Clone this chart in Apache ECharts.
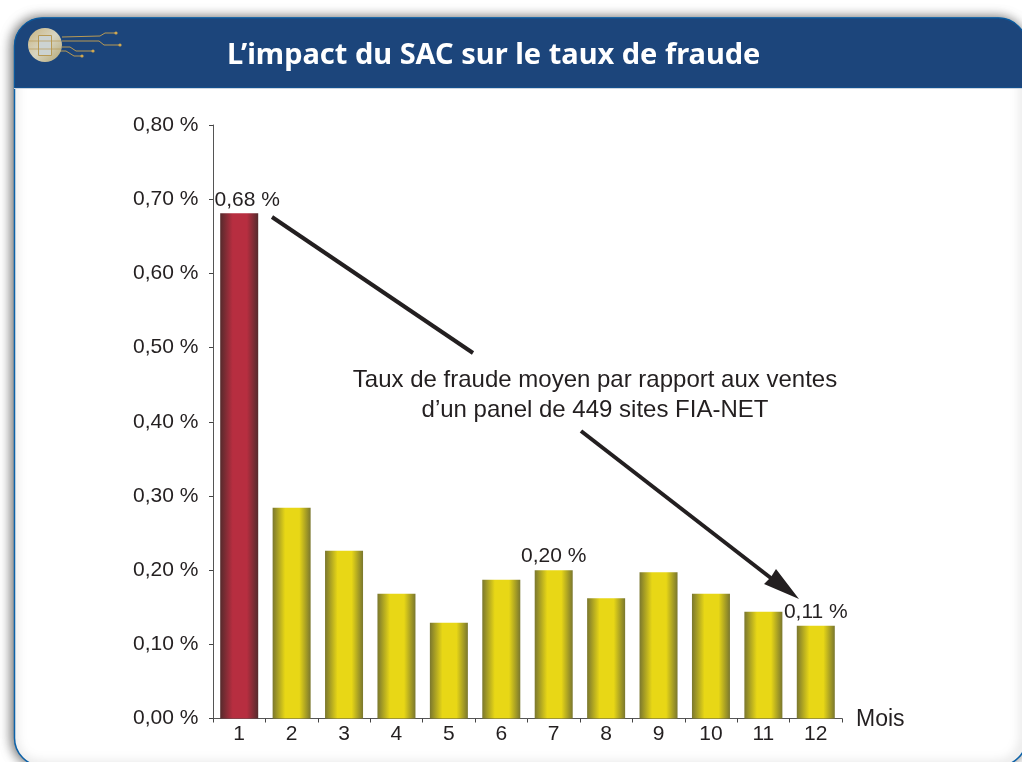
<!DOCTYPE html>
<html><head><meta charset="utf-8">
<style>html,body{margin:0;padding:0;background:#fff}#c{width:1022px;height:762px}</style>
<script src="https://cdn.jsdelivr.net/npm/echarts@6/dist/echarts.min.js"></script>
</head><body><div id="c"></div>
<script>
const categories = ['1','2','3','4','5','6','7','8','9','10','11','12'];
const fraudRate = [0.681,0.284,0.226,0.168,0.129,0.187,0.200,0.162,0.197,0.168,0.144,0.125];
const dataLabels = {0:'0,68 %',6:'0,20 %',11:'0,11 %'};
const titleText = 'L\u2019impact du SAC sur le taux de fraude';
const noteLines = 'Taux de fraude moyen par rapport aux ventes\nd\u2019un panel de 449 sites FIA-NET';
const FONT = '"Liberation Sans", Arial, sans-serif';
const INK = '#231f20';
const grad = (edge, mid) => ({type:'linear',x:0,y:0,x2:1,y2:0,colorStops:[
  {offset:0,color:edge},{offset:.33,color:mid},{offset:.7,color:mid},{offset:1,color:edge}]});
const traces = [
  [[62,37],[100,36],[105,33],[116,33]],
  [[62,41],[99,41],[104,45],[120,45]],
  [[62,47],[70,47],[76,51],[93,51]],
  [[58,51],[66,51],[74,56],[82,56]]
];
const gold = '#b89a55';
const chart = echarts.init(document.getElementById('c'));
chart.setOption({
  animation:false,
  backgroundColor:'#fff',
  title:{text:titleText,left:222,top:31,itemGap:0,
    textStyle:{color:'#fff',fontFamily:'"Noto Sans", sans-serif',fontWeight:'bold',fontSize:29,lineHeight:40,textBorderWidth:0}},
  grid:{left:213,right:180,top:125,bottom:43.5},
  xAxis:{type:'category',data:categories,name:'Mois',nameLocation:'end',nameGap:14,
    nameTextStyle:{fontFamily:FONT,fontSize:23,color:INK,verticalAlign:'top',lineHeight:2},
    axisLine:{lineStyle:{color:'#555',width:1}},
    axisTick:{show:true,alignWithLabel:false,length:4,lineStyle:{color:'#444'}},
    axisLabel:{fontFamily:FONT,fontSize:21,color:INK,margin:5}},
  yAxis:{type:'value',min:0,max:0.8,interval:0.1,
    axisLine:{show:true,lineStyle:{color:'#555',width:1}},
    axisTick:{show:true,length:4,lineStyle:{color:'#444'}},
    splitLine:{show:false},
    axisLabel:{fontFamily:FONT,fontSize:21,color:INK,align:'left',margin:80,
      formatter:v=>v.toFixed(2).replace('.',',')+' %'}},
  series:[{type:'bar',barWidth:38,z:3,
    data:fraudRate.map((v,i)=>({value:v,
      itemStyle:{color:i===0?grad('#552a2c','#b72e40'):grad('#7a772e','#e8d716')},
      label:dataLabels[i]?{show:true,position:'top',distance:3,formatter:dataLabels[i],
        offset:i===0?[8,0]:[0,0],fontFamily:FONT,fontSize:21,color:INK}:{show:false}}))}],
  graphic:{elements:[
    {type:'rect',z:-3,shape:{x:14.5,y:18,width:1012,height:748,r:28},
      style:{fill:'#fff',stroke:'#0d62a8',lineWidth:1.5,shadowBlur:12,shadowOffsetX:-2,shadowColor:'rgba(0,0,0,.6)'}},
    {type:'rect',z:-2,shape:{x:14.5,y:18,width:1012,height:70,r:[28,28,0,0]},style:{fill:'#1c457b',stroke:'#0b5a9e',lineWidth:1}},
    {type:'line',z:-2,shape:{x1:14,y1:88.5,x2:1022,y2:88.5},style:{stroke:'#cdd5e0',lineWidth:1}},
    ...traces.map(t=>({type:'polyline',z:-1,shape:{points:t},style:{fill:null,stroke:gold,lineWidth:1}})),
    ...traces.map(t=>({type:'circle',z:-1,shape:{cx:t[t.length-1][0],cy:t[t.length-1][1],r:1.6},style:{fill:'#d0a850'}})),
    {type:'circle',z:-1,shape:{cx:45,cy:45,r:17},style:{fill:{type:'linear',x:0,y:0,x2:1,y2:1,colorStops:[{offset:0,color:'#c9b47f'},{offset:.5,color:'#d8d5c2'},{offset:1,color:'#b4a671'}]}}},
    {type:'rect',z:-1,shape:{x:38.5,y:35.5,width:13,height:20},style:{fill:'#ccd3d2',stroke:gold,lineWidth:1}},
    {type:'line',z:-1,shape:{x1:29,y1:41,x2:61,y2:41},style:{stroke:gold,lineWidth:.7}},
    {type:'line',z:-1,shape:{x1:29,y1:49,x2:61,y2:49},style:{stroke:gold,lineWidth:.7}},
    {type:'line',z:10,shape:{x1:272,y1:217,x2:473,y2:353},style:{stroke:INK,lineWidth:4}},
    {type:'line',z:10,shape:{x1:581,y1:431,x2:776,y2:582},style:{stroke:INK,lineWidth:4}},
    {type:'polygon',z:10,shape:{points:[[799,599],[776,569],[771,577],[764,584]]},style:{fill:INK}},
    {type:'text',z:10,x:595,y:395,style:{text:noteLines,fontFamily:FONT,fontSize:24,lineHeight:30,fill:INK,align:'center',verticalAlign:'middle'}}
  ]}
});
</script></body></html>
